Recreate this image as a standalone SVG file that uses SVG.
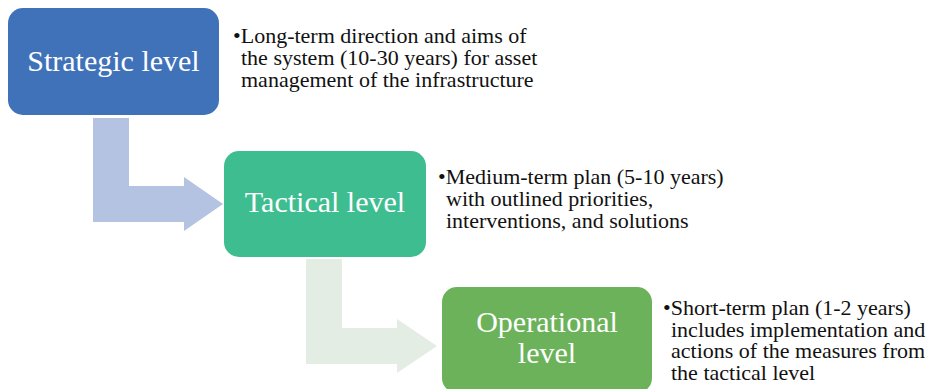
<svg xmlns="http://www.w3.org/2000/svg" width="932" height="389" viewBox="0 0 932 389">
<style>
.lbl{font-family:"Liberation Serif","Times New Roman",serif;font-size:30px;fill:#ffffff;text-anchor:middle}
.txt{font-family:"Liberation Serif","Times New Roman",serif;font-size:22px;fill:#111111}
</style>
<rect width="932" height="389" fill="#ffffff"/>
<g id="connectors">
<path d="M93,118 H129 V186 H184 V177 L223,204 L184,231 V222 H93 Z" fill="#B4C3E1"/>
<path d="M306,259 H342 V328 H397 V319 L437,346 L397,373 V364 H306 Z" fill="#E3EDE4"/>
</g>
<g id="strategic">
<rect x="8" y="8" width="211" height="107" rx="15" fill="#4072BA"/>
<text class="lbl" x="113.5" y="71">Strategic level</text>
</g>
<g id="strategic-desc">
<text class="txt"><tspan x="233" y="43">•Long-term direction and aims of</tspan><tspan x="241" y="65">the system (10-30 years) for asset</tspan><tspan x="241" y="87">management of the infrastructure</tspan></text>
</g>
<g id="tactical">
<rect x="224" y="151" width="202" height="106" rx="15" fill="#3EBD91"/>
<text class="lbl" x="325" y="212">Tactical level</text>
</g>
<g id="tactical-desc">
<text class="txt"><tspan x="438" y="184">•Medium-term plan (5-10 years)</tspan><tspan x="446" y="206">with outlined priorities,</tspan><tspan x="446" y="228">interventions, and solutions</tspan></text>
</g>
<g id="operational">
<rect x="442" y="287" width="210" height="106" rx="15" fill="#6BB25A"/>
<text class="lbl"><tspan x="547" y="332">Operational</tspan><tspan x="547" y="363">level</tspan></text>
</g>
<g id="operational-desc">
<text class="txt"><tspan x="663" y="315">•Short-term plan (1-2 years)</tspan><tspan x="671" y="337">includes implementation and</tspan><tspan x="671" y="358">actions of the measures from</tspan><tspan x="671" y="380">the tactical level</tspan></text>
</g>
</svg>
